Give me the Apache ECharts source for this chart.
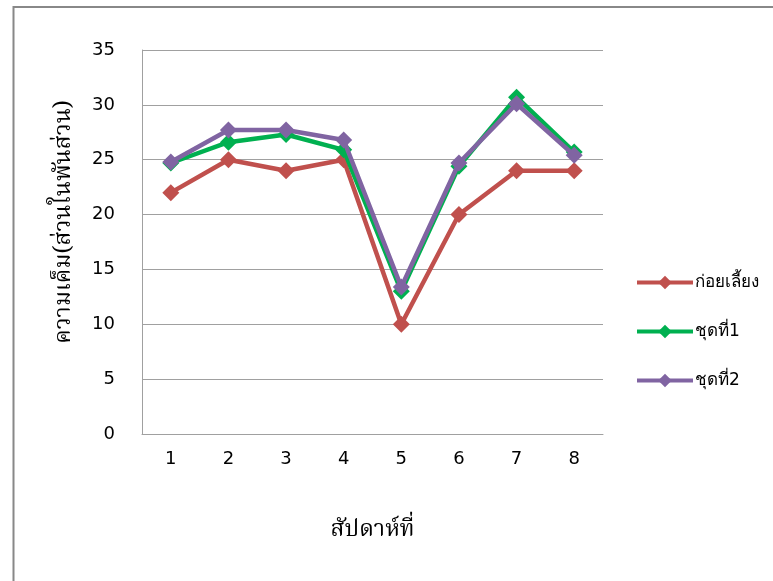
<!DOCTYPE html>
<html>
<head>
<meta charset="utf-8">
<script src="https://cdn.jsdelivr.net/npm/echarts@6/dist/echarts.min.js"></script>
<style>
  html, body { margin: 0; padding: 0; background: #fff; }
  #chart { width: 773px; height: 581px; }
</style>
</head>
<body>
<div id="chart"></div>
<script>
// Weekly salinity readings (parts per thousand)
const weeks = ['1', '2', '3', '4', '5', '6', '7', '8'];
const beforeRearing = [22, 25, 24, 25, 10, 20, 24, 24];
const set1 = [24.7, 26.6, 27.3, 25.9, 13.0, 24.4, 30.7, 25.7];
const set2 = [24.8, 27.7, 27.7, 26.8, 13.4, 24.7, 30.1, 25.4];

const seriesNames = ['ก่อยเลี้ยง', 'ชุดที่1', 'ชุดที่2'];
const seriesColors = ['#C0504D', '#00B050', '#8064A2'];
const seriesData = [beforeRearing, set1, set2];

const serifFont = '"Noto Serif Thai", "Noto Sans Thai", "DejaVu Serif", serif';
const sansFont = '"DejaVu Sans", "Noto Sans", sans-serif';

const chart = echarts.init(document.getElementById('chart'));

chart.setOption({
  animation: false,
  backgroundColor: '#fff',
  graphic: [{
    type: 'rect',
    shape: { x: 13.5, y: 7, width: 800, height: 600 },
    style: { fill: 'none', stroke: '#888', lineWidth: 2 },
    silent: true
  }],
  grid: { left: 142, top: 50, width: 461, height: 384 },
  legend: {
    orient: 'vertical',
    left: 630,
    top: 269,
    itemWidth: 56,
    itemHeight: 17,
    itemGap: 32,
    data: seriesNames,
    lineStyle: { width: 4 },
    textStyle: { fontFamily: sansFont, fontSize: 17, color: '#000', padding: [0, 0, 0, -3] }
  },
  xAxis: {
    type: 'category',
    data: weeks,
    boundaryGap: true,
    name: 'สัปดาห์ที่',
    nameLocation: 'middle',
    nameGap: 87,
    nameTextStyle: { fontFamily: serifFont, fontSize: 23, color: '#000' },
    axisLine: { lineStyle: { color: '#a0a0a0', width: 1 } },
    axisTick: { show: false },
    axisLabel: { fontFamily: sansFont, fontSize: 18, color: '#000', margin: 16 }
  },
  yAxis: {
    type: 'value',
    min: 0,
    max: 35,
    interval: 5,
    name: 'ความเค็ม(ส่วนในพันส่วน)',
    nameLocation: 'middle',
    nameGap: 64,
    nameRotate: 90,
    nameTextStyle: { fontFamily: serifFont, fontSize: 23, color: '#000', padding: [0, 0, 0, 40] },
    axisLine: { show: true, lineStyle: { color: '#a0a0a0', width: 1 } },
    axisTick: { show: false },
    splitLine: { lineStyle: { color: '#a0a0a0', width: 1 } },
    axisLabel: { fontFamily: sansFont, fontSize: 18, color: '#000', margin: 27 }
  },
  series: seriesNames.map((name, i) => ({
    name: name,
    type: 'line',
    data: seriesData[i],
    symbol: 'diamond',
    symbolSize: 17,
    z: 2 + i,
    lineStyle: { color: seriesColors[i], width: 4.5 },
    itemStyle: { color: seriesColors[i] }
  }))
});
</script>
</body>
</html>
